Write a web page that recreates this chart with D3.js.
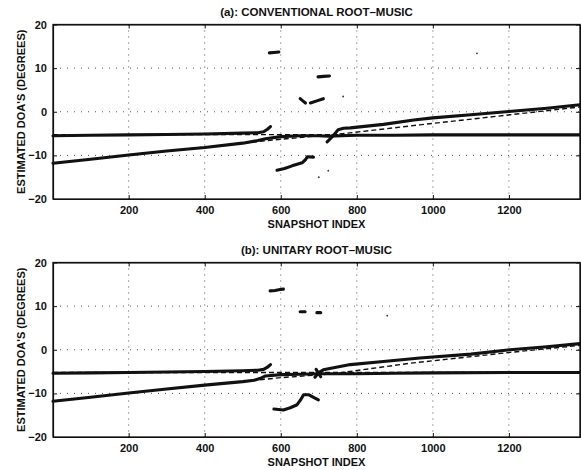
<!DOCTYPE html>
<html>
<head>
<meta charset="utf-8">
<script src="https://cdn.jsdelivr.net/npm/d3@7"></script>
<style>
  body { margin: 0; background: #fff; }
  svg text { font-family: "Liberation Sans", Arial, sans-serif; font-weight: bold; fill: #111; }
</style>
</head>
<body>
<div id="chart"></div>
<script>
// --------- DATA ---------
const xTicks = [200, 400, 600, 800, 1000, 1200];
const yTicks = [-20, -10, 0, 10, 20];
const gridY = [-10, 0, 10];
const xDomain = [1, 1387];
const yDomain = [-20, 20];

// (a) conventional root-music: estimated tracks [snapshot, degrees]
const convTrackA = [[1,-5.5],[100,-5.4],[200,-5.3],[300,-5.2],[400,-5.1],[500,-4.9],[540,-4.8],[555,-4.6],[565,-4.0],[573,-3.4]];
const convTrackB = [[1,-11.8],[100,-10.9],[200,-9.9],[300,-9.0],[400,-8.2],[500,-7.2],[540,-6.6],[560,-6.2],[600,-5.7],[650,-5.5],[700,-5.5],[725,-5.6],[760,-5.5],[800,-5.4],[900,-5.4],[1000,-5.3],[1100,-5.3],[1200,-5.3],[1300,-5.3],[1387,-5.3]];
const convTrackC = [[722,-6.9],[738,-5.5],[751,-4.1],[765,-3.8],[783,-3.7],[870,-2.9],[950,-1.9],[1000,-1.4],[1100,-0.7],[1200,0.05],[1300,0.8],[1387,1.6]];
const convOutliers = [
  [[570,13.5],[582,13.6],[595,13.7]],
  [[698,8.0],[712,8.1],[728,8.2]],
  [[651,3.0],[658,2.5],[665,2.0]],
  [[678,2.0],[695,2.5],[712,3.0]],
  [[590,-13.4],[610,-13.0],[630,-12.4],[656,-11.7],[665,-11.0],[670,-10.3],[686,-10.4]]
];
const convStray = [[725,-13.5],[700,-15.0],[764,3.5],[1116,13.4]];
const convTrueConst = [[1,-5.25],[1387,-5.25]];
const convTrueLin = [[1,-11.8],[400,-8.1],[600,-6.3],[756,-5.1],[966,-3.0],[1203,-0.7],[1387,1.1]];

// (b) unitary root-music
const unitTrackA = [[1,-5.4],[100,-5.3],[200,-5.2],[300,-5.1],[400,-5.0],[500,-4.8],[540,-4.7],[555,-4.5],[565,-4.0],[573,-3.4]];
const unitTrackB = [[1,-11.8],[100,-10.9],[200,-9.9],[300,-9.0],[400,-8.1],[500,-7.3],[530,-7.0],[545,-6.6],[560,-6.0],[600,-5.7],[650,-5.6],[700,-5.5],[800,-5.5],[900,-5.4],[1000,-5.3],[1200,-5.2],[1387,-5.2]];
const unitTrackC = [[690,-6.3],[699,-5.3],[712,-4.6],[783,-3.4],[870,-2.7],[966,-1.9],[1100,-1.0],[1203,0.0],[1300,0.7],[1387,1.4]];
const unitOutliers = [
  [[572,13.5],[585,13.6],[598,13.8],[607,13.9]],
  [[651,8.7],[664,8.7]],
  [[695,8.5],[705,8.5]],
  [[693,-4.5],[705,-6.2]],
  [[582,-13.6],[607,-13.8],[625,-13.3],[643,-12.6],[652,-11.5],[660,-10.3],[673,-10.3],[690,-11.1],[699,-11.5]]
];
const unitStray = [[880,7.8]];
const unitTrueConst = [[1,-5.2],[1387,-5.2]];
const unitTrueLin = [[1,-11.8],[400,-8.1],[600,-6.4],[738,-5.5],[940,-3.1],[1203,-0.6],[1387,1.0]];

// --------- GRAPHING ---------
const W = 581, H = 470;
const svg = d3.select("#chart").append("svg")
    .attr("width", W).attr("height", H);

function panel(top, title, tracks, outliers, stray, trueLines) {
    let margin = {left: 53, right: 1},
        width = W - margin.left - margin.right,
        height = 174.5;

    let g = svg.append("g").attr("transform", "translate(" + margin.left + "," + top + ")");

    let x = d3.scaleLinear().domain(xDomain).range([0, width]);
    let y = d3.scaleLinear().domain(yDomain).range([height, 0]);

    // dotted grid
    g.selectAll(".gx").data(xTicks).enter().append("line")
        .attr("x1", d => x(d)).attr("x2", d => x(d))
        .attr("y1", 0).attr("y2", height)
        .attr("stroke", "#555").attr("stroke-width", 1)
        .attr("stroke-dasharray", "1,5");
    g.selectAll(".gy").data(gridY).enter().append("line")
        .attr("x1", 0).attr("x2", width)
        .attr("y1", d => y(d)).attr("y2", d => y(d))
        .attr("stroke", "#555").attr("stroke-width", 1)
        .attr("stroke-dasharray", "1,6");

    // axes with inward ticks
    let fmt = v => (v < 0 ? "\u2212" + Math.abs(v) : "" + v);
    g.append("g").attr("transform", "translate(0," + height + ")")
        .call(d3.axisBottom(x).tickValues(xTicks).tickSizeInner(-4).tickSizeOuter(0)
            .tickPadding(7).tickFormat(d3.format("d")));
    g.append("g")
        .call(d3.axisLeft(y).tickValues(yTicks).tickSizeInner(-4).tickSizeOuter(0).tickPadding(6).tickFormat(fmt));
    g.append("g").call(d3.axisTop(x).tickValues(xTicks).tickSizeInner(-4).tickSizeOuter(0).tickFormat(""));
    g.append("g").attr("transform", "translate(" + width + ",0)")
        .call(d3.axisRight(y).tickValues(yTicks).tickSizeInner(-4).tickSizeOuter(0).tickFormat(""));
    g.selectAll(".domain").attr("stroke", "#111").attr("stroke-width", 1.2);
    g.selectAll(".tick line").attr("stroke", "#111");
    g.selectAll(".tick text").style("font-size", "11px");

    g.append("rect").attr("width", width).attr("height", height)
        .attr("fill", "none").attr("stroke", "#111").attr("stroke-width", 1.3);

    let line = d3.line().x(d => x(d[0])).y(d => y(d[1]));

    // true DOAs (dashed)
    trueLines.forEach(tl => {
        g.append("path").attr("d", line(tl))
            .attr("fill", "none").attr("stroke", "#111")
            .attr("stroke-width", 1.4).attr("stroke-dasharray", "5,3");
    });

    // estimated tracks
    tracks.concat(outliers).forEach(t => {
        g.append("path").attr("d", line(t))
            .attr("fill", "none").attr("stroke", "#111")
            .attr("stroke-width", 3.1).attr("stroke-linecap", "round").attr("stroke-linejoin", "round");
    });

    g.selectAll(".stray").data(stray).enter().append("circle")
        .attr("cx", d => x(d[0])).attr("cy", d => y(d[1])).attr("r", 0.9).attr("fill", "#333");

    // labels
    g.append("text").attr("x", width / 2).attr("y", -8.5)
        .attr("text-anchor", "middle").style("font-size", "11.5px").text(title);
    g.append("text").attr("x", width / 2).attr("y", height + 29)
        .attr("text-anchor", "middle").style("font-size", "11px").text("SNAPSHOT INDEX");
    g.append("text").attr("transform", "translate(-28," + (height / 2) + ") rotate(-90)")
        .attr("text-anchor", "middle").style("font-size", "11px").text("ESTIMATED DOA'S (DEGREES)");
}

panel(24.5, "(a): CONVENTIONAL ROOT\u2013MUSIC",
      [convTrackA, convTrackB, convTrackC], convOutliers, convStray, [convTrueConst, convTrueLin]);
panel(262.5, "(b): UNITARY ROOT\u2013MUSIC",
      [unitTrackA, unitTrackB, unitTrackC], unitOutliers, unitStray, [unitTrueConst, unitTrueLin]);
</script>
</body>
</html>
